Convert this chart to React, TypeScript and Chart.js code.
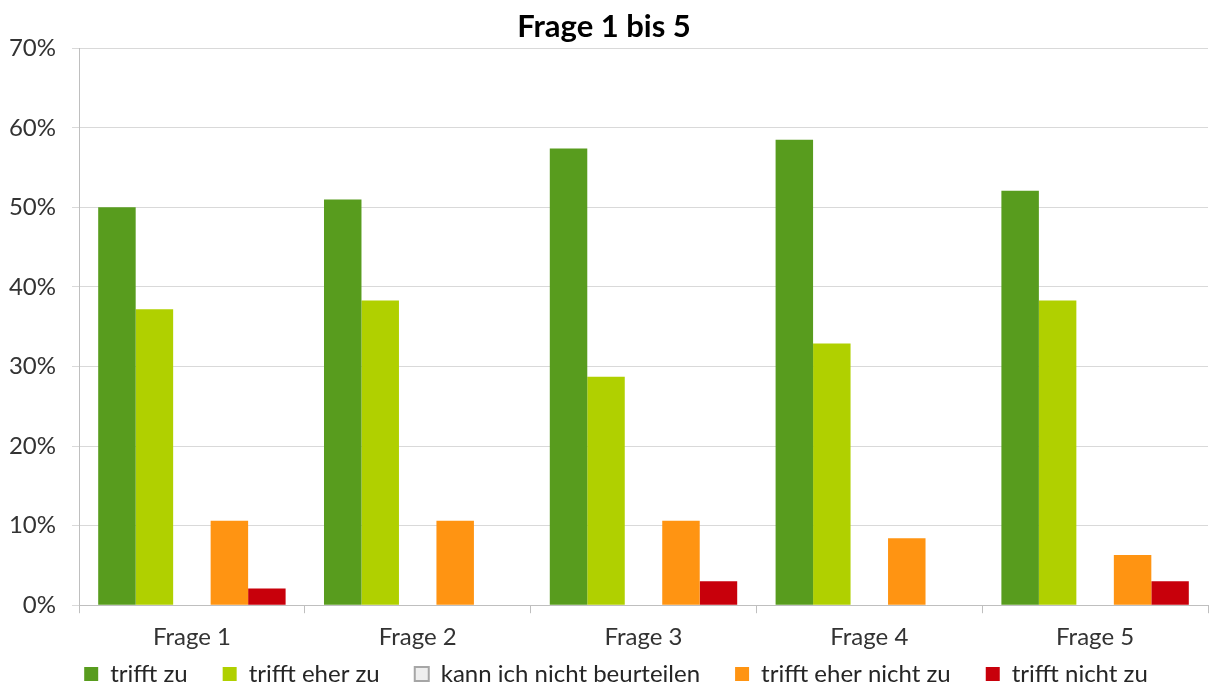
import React, { useEffect, useRef } from "react";
import { Chart, registerables } from "chart.js";

Chart.register(...registerables);

const categories = ["Frage 1", "Frage 2", "Frage 3", "Frage 4", "Frage 5"];
const seriesNames = [
  "trifft zu",
  "trifft eher zu",
  "kann ich nicht beurteilen",
  "trifft eher nicht zu",
  "trifft nicht zu",
];
const trifftZu = [50.0, 51.0, 57.4, 58.5, 52.1];
const trifftEherZu = [37.2, 38.3, 28.7, 32.9, 38.3];
const kannNicht = [0, 0, 0, 0, 0];
const eherNicht = [10.6, 10.6, 10.6, 8.4, 6.3];
const nichtZu = [2.1, 0, 3.0, 0, 3.0];
const yTicks = [0, 10, 20, 30, 40, 50, 60, 70];

const colors = ["#589C1E", "#B0D000", "#EEEEEE", "#FF9412", "#C8000B"];
const borders = ["#589C1E", "#B0D000", "#A6A6A6", "#FF9412", "#C8000B"];

const FONT = "Lato, 'Open Sans', sans-serif";
const LEGEND_FONT = 24;
const LEGEND_PAD = 35;
const LEGEND_CENTER_FROM_BOTTOM = 13;
const LEGEND_X_OFFSET = 12;

const legendShift = {
  id: "legendShift",
  afterLayout(chart: any) {
    const lg = chart.legend;
    if (!lg) return;
    const wantTop = chart.height - LEGEND_CENTER_FROM_BOTTOM - LEGEND_FONT / 2 - LEGEND_PAD;
    lg.top = wantTop;
    lg.bottom = chart.height;
    lg.height = chart.height - wantTop;
    lg.left += LEGEND_X_OFFSET;
    lg.right += LEGEND_X_OFFSET;
  },
};

export default function App() {
  const ref = useRef<HTMLCanvasElement | null>(null);
  useEffect(() => {
    document.body.style.margin = "0";
    const values = [trifftZu, trifftEherZu, kannNicht, eherNicht, nichtZu];
    const chart = new Chart(ref.current as HTMLCanvasElement, {
      type: "bar",
      data: {
        labels: categories,
        datasets: seriesNames.map((name, i) => ({
          label: name,
          data: values[i],
          backgroundColor: colors[i],
          borderColor: borders[i],
          borderWidth: i === 2 ? 2 : 0,
          categoryPercentage: 0.83,
          barPercentage: 1,
        })),
      },
      plugins: [legendShift],
      options: {
        animation: false,
        responsive: false,
        maintainAspectRatio: false,
        layout: { padding: { left: 0, right: 1, top: 0, bottom: 0 } },
        plugins: {
          title: {
            display: true,
            text: "Frage 1 bis 5",
            color: "#000000",
            font: { family: FONT, size: 31, weight: "bold" },
            padding: { top: 8, bottom: 3 },
          },
          legend: {
            position: "bottom",
            maxHeight: 25,
            labels: {
              color: "#262626",
              font: { family: FONT, size: LEGEND_FONT },
              boxWidth: 14,
              boxHeight: 14,
              padding: LEGEND_PAD,
            },
          },
          tooltip: { enabled: false },
        },
        scales: {
          x: {
            grid: {
              display: true,
              drawOnChartArea: false,
              drawTicks: true,
              tickLength: 8,
              color: "#BFBFBF",
              offset: true,
            },
            border: { display: true, color: "#BFBFBF", width: 1 },
            ticks: {
              color: "#333333",
              font: { family: FONT, size: 24 },
              padding: 10,
            },
          },
          y: {
            min: 0,
            max: 70,
            afterFit: (s: any) => {
              s.width = 79;
            },
            afterBuildTicks: (s: any) => {
              s.ticks = yTicks.map((v) => ({ value: v }));
            },
            grid: {
              color: "#D9D9D9",
              tickLength: 7,
              drawTicks: true,
            },
            border: { display: true, color: "#BFBFBF", width: 1 },
            ticks: {
              color: "#333333",
              font: { family: FONT, size: 24 },
              padding: 16,
              callback: (v: any) => `${v}%`,
            },
          },
        },
      },
    });
    return () => chart.destroy();
  }, []);
  return (
    <div style={{ width: 1209, height: 687 }}>
      <canvas ref={ref} width={1209} height={687} style={{ display: "block" }} />
    </div>
  );
}
